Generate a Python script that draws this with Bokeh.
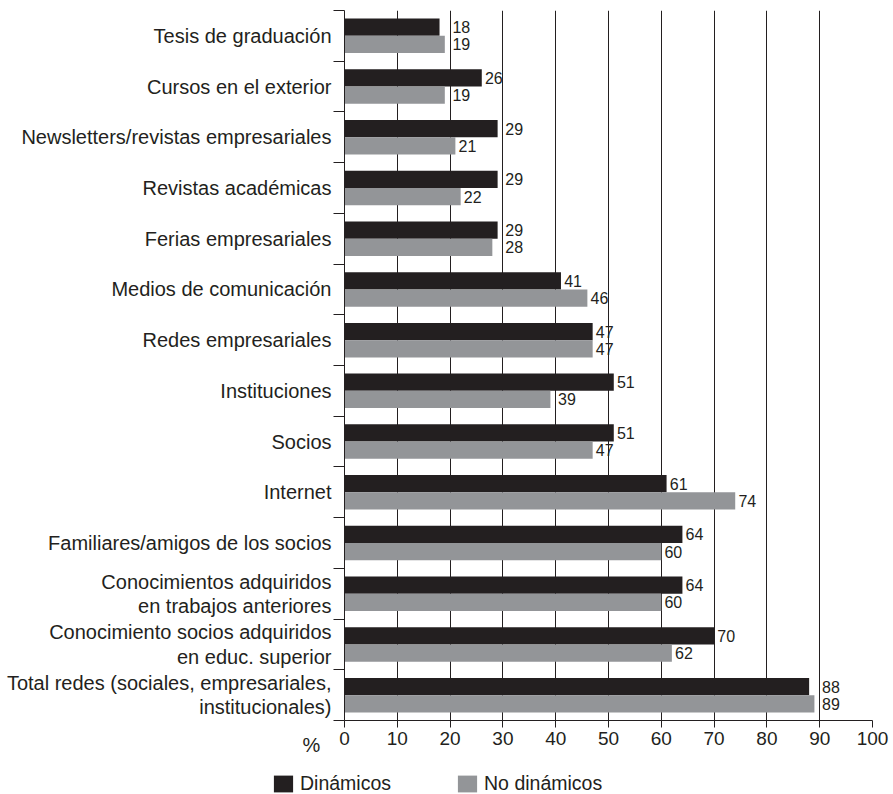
from bokeh.plotting import figure
from bokeh.layouts import column, row
from bokeh.models import Range1d, FixedTicker, Legend, LegendItem, ColumnDataSource
from bokeh.transform import dodge
from bokeh.core.properties import value
from bokeh.embed import file_html
from bokeh.resources import INLINE

categories = [
    "Tesis de graduación",
    "Cursos en el exterior",
    "Newsletters/revistas empresariales",
    "Revistas académicas",
    "Ferias empresariales",
    "Medios de comunicación",
    "Redes empresariales",
    "Instituciones",
    "Socios",
    "Internet",
    "Familiares/amigos de los socios",
    "Conocimientos adquiridos\nen trabajos anteriores",
    "Conocimiento socios adquiridos\nen educ. superior",
    "Total redes (sociales, empresariales,\ninstitucionales)",
]
dinamicos = [18, 26, 29, 29, 29, 41, 47, 51, 51, 61, 64, 64, 70, 88]
no_dinamicos = [19, 19, 21, 22, 28, 46, 47, 39, 47, 74, 60, 60, 62, 89]
x_ticks = [0, 10, 20, 30, 40, 50, 60, 70, 80, 90, 100]
series_names = ["Dinámicos", "No dinámicos"]
unit_label = "%"

DARK = "#231f20"
GRAY = "#939598"
FONT = "Liberation Sans"

n = len(categories)
pos = [n - 1 - i for i in range(n)]


def label_start(v, gap=0.6, reach=1.5, after=0.45):
    """Value label starts just right of the bar; if a grid line would cut
    through its first digit, it is moved to just past that grid line."""
    s = v + gap
    for g in x_ticks:
        if s < g <= s + reach:
            return g + after
    return s


src = ColumnDataSource(dict(
    y=pos,
    din=dinamicos,
    nod=no_dinamicos,
    din_x=[label_start(v) for v in dinamicos],
    nod_x=[label_start(v) for v in no_dinamicos],
    din_lbl=[str(v) for v in dinamicos],
    nod_lbl=[str(v) for v in no_dinamicos],
))

p = figure(width=893, height=760,
           x_range=Range1d(0, 100), y_range=Range1d(-0.5, n - 0.5),
           output_backend="svg", toolbar_location=None,
           min_border_left=344, min_border_right=21,
           min_border_top=10, min_border_bottom=40)
p.outline_line_color = None
p.background_fill_color = "white"
p.border_fill_color = "white"

r1 = p.hbar(y=dodge("y", 0.17), left=0, right="din", height=0.34, source=src,
            fill_color=DARK, line_color=None)
r2 = p.hbar(y=dodge("y", -0.17), left=0, right="nod", height=0.34, source=src,
            fill_color=GRAY, line_color=None)

p.text(x="din_x", y=dodge("y", 0.17), text="din_lbl", source=src,
       text_baseline="middle", text_align="left", text_color=DARK,
       text_font=value(FONT), text_font_size="16px")
p.text(x="nod_x", y=dodge("y", -0.17), text="nod_lbl", source=src,
       text_baseline="middle", text_align="left", text_color=DARK,
       text_font=value(FONT), text_font_size="16px")

# x axis
xa = p.xaxis[0]
xa.ticker = FixedTicker(ticks=x_ticks, minor_ticks=[])
xa.axis_line_color = DARK
xa.major_tick_line_color = DARK
xa.major_tick_out = 7
xa.major_tick_in = 0
xa.minor_tick_out = 0
xa.major_label_standoff = 4
xa.major_label_text_font = FONT
xa.major_label_text_font_size = "19px"
xa.major_label_text_color = DARK

# y axis (category labels at centres, boundary ticks as minor ticks,
# the unit label sits at the bottom end of the axis)
ya = p.yaxis[0]
ya.ticker = FixedTicker(ticks=pos + [-0.5],
                        minor_ticks=[k - 0.5 for k in range(n + 1)])
overrides = {pos[i]: categories[i] for i in range(n)}
overrides[-0.5] = "\n\n" + unit_label + "\u00a0\u00a0"
ya.major_label_overrides = overrides
ya.axis_line_color = DARK
ya.major_tick_out = 0
ya.major_tick_in = 0
ya.minor_tick_out = 11
ya.minor_tick_in = 0
ya.minor_tick_line_color = DARK
ya.major_label_standoff = 2
ya.major_label_text_font = FONT
ya.major_label_text_font_size = "20px"
ya.major_label_text_line_height = 1.1
ya.major_label_text_color = DARK

p.xgrid.grid_line_color = DARK
p.xgrid.grid_line_alpha = 1
p.xgrid.grid_line_width = 1
p.ygrid.grid_line_color = None

# legend strip below the chart (its own small figure; the swatch renderers
# hold one bar each, placed outside the visible range)
lg = figure(width=893, height=34, x_range=Range1d(0, 1), y_range=Range1d(0, 1),
            output_backend="svg", toolbar_location=None,
            x_axis_location=None, y_axis_location=None,
            min_border_left=0, min_border_right=0,
            min_border_top=0, min_border_bottom=0)
lg.outline_line_color = None
lg.background_fill_color = "white"
lg.border_fill_color = "white"
lg.xgrid.visible = False
lg.ygrid.visible = False
lr1 = lg.hbar(y=[0.5], right=[9], left=[8], height=0.1, fill_color=DARK, line_color=None)
lr2 = lg.hbar(y=[0.5], right=[9], left=[8], height=0.1, fill_color=GRAY, line_color=None)
legend = Legend(items=[LegendItem(label=series_names[0], renderers=[lr1]),
                       LegendItem(label=series_names[1], renderers=[lr2])],
                location=(271, -1), orientation="horizontal",
                glyph_width=24, glyph_height=21, label_height=17,
                label_standoff=5, spacing=64,
                padding=0, margin=0, border_line_color=None,
                background_fill_alpha=0,
                label_text_font=FONT, label_text_font_size="19.5px",
                label_text_color=DARK)
lg.add_layout(legend)

page = column(p, row(lg), spacing=0)
open("out.html", "w").write(file_html(page, INLINE))
